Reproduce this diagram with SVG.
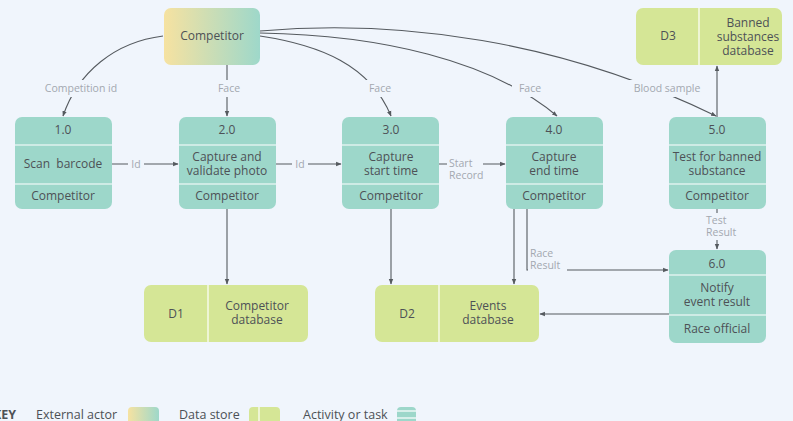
<svg xmlns="http://www.w3.org/2000/svg" width="793" height="421" viewBox="0 0 793 421">
  <defs>
    <linearGradient id="actorFill" x1="0" y1="0" x2="1" y2="0">
      <stop offset="0" stop-color="#f6e2a1"/>
      <stop offset="1" stop-color="#9ed8ca"/>
    </linearGradient>
    <marker id="arrow" viewBox="0 0 10 10" refX="9" refY="5" markerWidth="5" markerHeight="5" orient="auto">
      <path d="M0,1 L10,5 L0,9 Z" fill="#555a5f"/>
    </marker>
    <style>
      .task { fill: #9dd7ca; }
      .store { fill: #d5e696; }
      .div { stroke: #ffffff; stroke-width: 1.2; }
      .txt { font-family: "Open Sans", "Liberation Sans", sans-serif; font-size: 12px; fill: #4d5156; text-anchor: middle; }
      .lbl { font-family: "Open Sans", "Liberation Sans", sans-serif; font-size: 10.5px; fill: #a3a8b0; }
      .lblc { text-anchor: middle; }
      .lbg { fill: #f0f5fc; }
      .edge { fill: none; stroke: #555a5f; stroke-width: 1.1; }
      .arr { marker-end: url(#arrow); }
      .key { font-family: "Open Sans", "Liberation Sans", sans-serif; font-size: 12.5px; fill: #4d5156; }
    </style>
  </defs>

  <rect width="793" height="421" fill="#f0f5fc"/>

  <!-- connectors -->
  <g id="connectors">
    <path class="edge arr" d="M163,36 C115,42 78,72 63,116"/>
    <path class="edge arr" d="M227,65 V116"/>
    <path class="edge arr" d="M260,36 C320,45 370,65 391,116"/>
    <path class="edge arr" d="M260,33 C380,35 490,60 557,116"/>
    <path class="edge arr" d="M260,31 C400,19 560,40 716,116"/>
    <path class="edge arr" d="M112,164 H178"/>
    <path class="edge arr" d="M276,164 H341"/>
    <path class="edge arr" d="M439,164 H505"/>
    <path class="edge arr" d="M227,209 V284"/>
    <path class="edge arr" d="M391,209 V284"/>
    <path class="edge arr" d="M514,209 V284"/>
    <path class="edge arr" d="M527,209 V270 H668"/>
    <path class="edge arr" d="M717,209 V249"/>
    <path class="edge arr" d="M717,117 V66"/>
    <path class="edge arr" d="M669,314 H540"/>

    <!-- connector labels -->
    <rect class="lbg" x="37" y="80" width="88" height="17"/>
    <text class="lbl lblc" x="81" y="92">Competition id</text>
    <rect class="lbg" x="211" y="80" width="36" height="17"/>
    <text class="lbl lblc" x="229" y="92">Face</text>
    <rect class="lbg" x="362" y="80" width="36" height="17"/>
    <text class="lbl lblc" x="380" y="92">Face</text>
    <rect class="lbg" x="512" y="80" width="36" height="17"/>
    <text class="lbl lblc" x="530" y="92">Face</text>
    <rect class="lbg" x="626" y="80" width="82" height="17"/>
    <text class="lbl lblc" x="667" y="92">Blood sample</text>
    <rect class="lbg" x="128" y="157" width="16" height="14"/>
    <text class="lbl lblc" x="136" y="168">Id</text>
    <rect class="lbg" x="292" y="157" width="16" height="14"/>
    <text class="lbl lblc" x="300" y="168">Id</text>
    <rect class="lbg" x="447" y="156" width="36" height="27"/>
    <text class="lbl" x="449" y="167">Start</text>
    <text class="lbl" x="449" y="179">Record</text>
    <rect class="lbg" x="528" y="246" width="39" height="27"/>
    <text class="lbl" x="530" y="257">Race</text>
    <text class="lbl" x="530" y="269">Result</text>
    <rect class="lbg" x="704" y="213" width="40" height="27"/>
    <text class="lbl" x="706" y="224">Test</text>
    <text class="lbl" x="706" y="236">Result</text>
  </g>

  <!-- external actor -->
  <g id="actor-competitor">
    <rect x="164" y="8" width="96" height="57" rx="7" fill="url(#actorFill)"/>
    <text class="txt" x="212" y="40">Competitor</text>
  </g>

  <!-- activities -->
  <g id="task-1">
    <rect class="task" x="15" y="117" width="97" height="92" rx="7"/>
    <line class="div" x1="15" y1="145" x2="112" y2="145"/>
    <line class="div" x1="15" y1="184" x2="112" y2="184"/>
    <text class="txt" x="63" y="134">1.0</text>
    <text class="txt" x="63" y="168" xml:space="preserve">Scan  barcode</text>
    <text class="txt" x="63" y="200">Competitor</text>
  </g>
  <g id="task-2">
    <rect class="task" x="179" y="117" width="97" height="92" rx="7"/>
    <line class="div" x1="179" y1="145" x2="276" y2="145"/>
    <line class="div" x1="179" y1="184" x2="276" y2="184"/>
    <text class="txt" x="227" y="134">2.0</text>
    <text class="txt" x="227" y="161">Capture and</text>
    <text class="txt" x="227" y="175">validate photo</text>
    <text class="txt" x="227" y="200">Competitor</text>
  </g>
  <g id="task-3">
    <rect class="task" x="342" y="117" width="97" height="92" rx="7"/>
    <line class="div" x1="342" y1="145" x2="439" y2="145"/>
    <line class="div" x1="342" y1="184" x2="439" y2="184"/>
    <text class="txt" x="391" y="134">3.0</text>
    <text class="txt" x="391" y="161">Capture</text>
    <text class="txt" x="391" y="175">start time</text>
    <text class="txt" x="391" y="200">Competitor</text>
  </g>
  <g id="task-4">
    <rect class="task" x="506" y="117" width="97" height="92" rx="7"/>
    <line class="div" x1="506" y1="145" x2="603" y2="145"/>
    <line class="div" x1="506" y1="184" x2="603" y2="184"/>
    <text class="txt" x="554" y="134">4.0</text>
    <text class="txt" x="554" y="161">Capture</text>
    <text class="txt" x="554" y="175">end time</text>
    <text class="txt" x="554" y="200">Competitor</text>
  </g>
  <g id="task-5">
    <rect class="task" x="669" y="117" width="97" height="92" rx="7"/>
    <line class="div" x1="669" y1="145" x2="766" y2="145"/>
    <line class="div" x1="669" y1="184" x2="766" y2="184"/>
    <text class="txt" x="717" y="134">5.0</text>
    <text class="txt" x="717" y="161">Test for banned</text>
    <text class="txt" x="717" y="175">substance</text>
    <text class="txt" x="717" y="200">Competitor</text>
  </g>
  <g id="task-6">
    <rect class="task" x="669" y="250" width="97" height="93" rx="7"/>
    <line class="div" x1="669" y1="275" x2="766" y2="275"/>
    <line class="div" x1="669" y1="315" x2="766" y2="315"/>
    <text class="txt" x="717" y="268">6.0</text>
    <text class="txt" x="717" y="292">Notify</text>
    <text class="txt" x="717" y="306">event result</text>
    <text class="txt" x="717" y="333">Race official</text>
  </g>

  <!-- data stores -->
  <g id="store-d1">
    <rect class="store" x="144" y="285" width="164" height="57" rx="7"/>
    <line class="div" x1="208" y1="285" x2="208" y2="342"/>
    <text class="txt" x="176" y="318">D1</text>
    <text class="txt" x="257" y="310">Competitor</text>
    <text class="txt" x="257" y="324">database</text>
  </g>
  <g id="store-d2">
    <rect class="store" x="375" y="285" width="164" height="57" rx="7"/>
    <line class="div" x1="439" y1="285" x2="439" y2="342"/>
    <text class="txt" x="407" y="318">D2</text>
    <text class="txt" x="488" y="310">Events</text>
    <text class="txt" x="488" y="324">database</text>
  </g>
  <g id="store-d3">
    <rect class="store" x="636" y="8" width="146" height="57" rx="7"/>
    <line class="div" x1="699" y1="8" x2="699" y2="65"/>
    <text class="txt" x="668" y="40">D3</text>
    <text class="txt" x="748" y="27">Banned</text>
    <text class="txt" x="748" y="41">substances</text>
    <text class="txt" x="748" y="55">database</text>
  </g>

  <!-- key -->
  <g id="key">
    <text class="key" x="-7" y="419" font-weight="bold">KEY</text>
    <text class="key" x="36" y="419">External actor</text>
    <rect x="128" y="407" width="31" height="22" rx="4" fill="url(#actorFill)"/>
    <text class="key" x="179" y="419">Data store</text>
    <rect class="store" x="249" y="407" width="31" height="22" rx="4"/>
    <line class="div" x1="259" y1="407" x2="259" y2="421"/>
    <text class="key" x="303" y="419">Activity or task</text>
    <rect class="task" x="397" y="407" width="19" height="22" rx="4"/>
    <line class="div" x1="397" y1="411" x2="416" y2="411"/>
    <line class="div" x1="397" y1="418" x2="416" y2="418"/>
  </g>
</svg>
